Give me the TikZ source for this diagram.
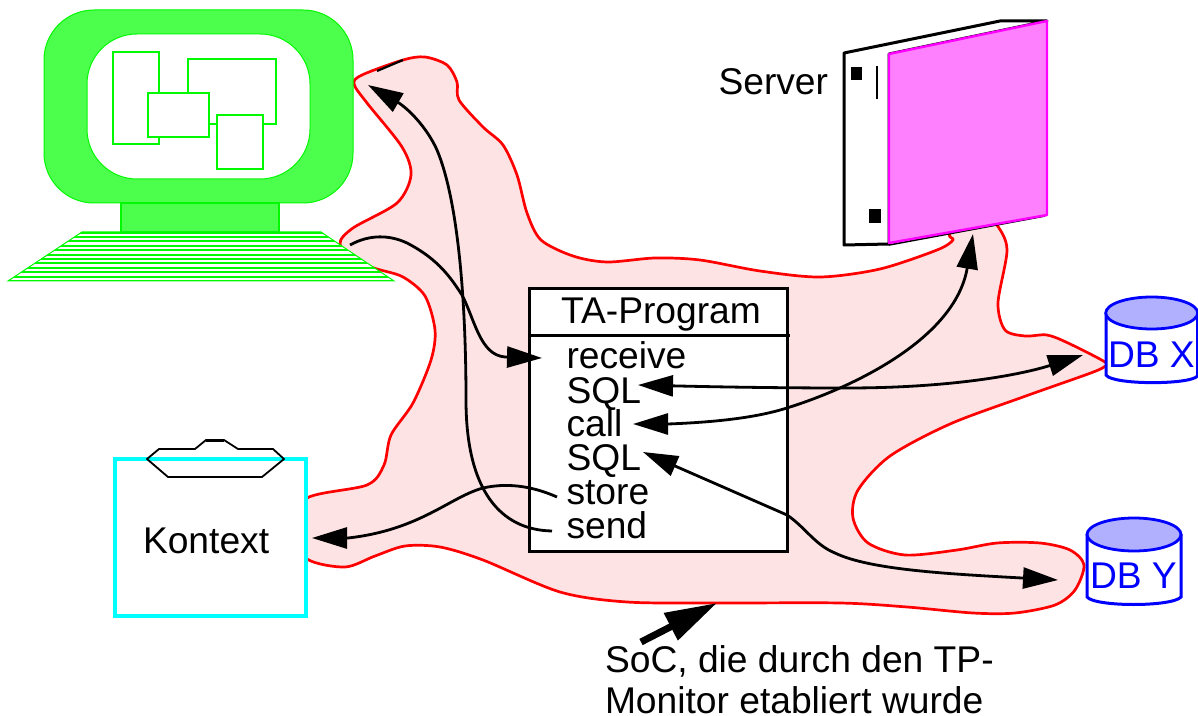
\documentclass[tikz,border=0pt]{standalone}
\usepackage{fontspec}
\setmainfont{Liberation Sans}
\usetikzlibrary{arrows.meta}
\definecolor{blobfill}{HTML}{FDE3E3}
\definecolor{monfill}{HTML}{4CFF4C}
\definecolor{monline}{HTML}{00F800}
\definecolor{srvfill}{HTML}{FF80FF}
\definecolor{srvline}{HTML}{FF00FF}
\definecolor{dbfill}{HTML}{B0B0FF}
\definecolor{ctxline}{HTML}{00FFFF}
\definecolor{blobline}{HTML}{FF0000}
\definecolor{dbline}{HTML}{0000FF}
\tikzset{
  flowhead/.tip={Triangle[length=17.5pt,width=10.5pt]},
  flow/.style={black,line width=1.4pt,line join=round},
  lbl/.style={anchor=base west,inner sep=0pt,outer sep=0pt,font=\fontsize{18.6}{20}\selectfont},
  dblbl/.style={lbl,text=dbline},
  winbox/.style={draw=monline,fill=white,line width=1pt},
  dbside/.style={draw=dbline,line width=1.5pt,fill=white},
  dbtop/.style={draw=dbline,line width=1.4pt,fill=dbfill},
}
\begin{document}
\begin{tikzpicture}[x=0.5pt,y=-0.5pt]
\useasboundingbox (0,0) rectangle (1198,716);
% sphere of control
\draw[blobline,line width=1.35pt,fill=blobfill,line join=round] plot[smooth cycle,tension=0.5] coordinates {
 (354,84) (362,75) (403,60) (425,57) (447,65) (457,82) (459,100) (483,127)
 (503,145) (517,175) (527,213) (541,240) (573,256) (607,262) (655,258) (700,260)
 (760,271) (820,277) (880,269) (937,250) (953,240) (950,233) (975,200) (997,225) (1007,250)
 (998,303) (1005,330) (1025,336) (1047,335) (1068,343) (1105,362)
 (1104,367) (1088,374) (1023,397) (950,424) (890,456) (858,490) (853,518) (868,543) (905,555)
 (957,550) (997,543) (1040,543) (1070,550) (1084,565) (1075,590) (1055,605)
 (1015,613) (973,613) (907,607) (840,603) (717,603) (627,602) (560,592) (483,560)
 (440,547) (405,546) (375,556) (345,567) (307,559) (290,530) (307,498) (367,485)
 (384,465) (391,435) (413,403) (431,360) (435,330) (425,296) (403,277)
 (377,269) (358,262) (340,244) (353,228) (397,203) (411,175) (402,147) (367,103)};
\draw[black,line width=1.1pt] (377,71) -- (403,60);
% monitor
\draw[monline,line width=0.5pt,fill=monfill,rounded corners=25pt] (44,10) rectangle (353,203);
\draw[monline,line width=0.5pt,fill=white,rounded corners=25pt] (87,34) rectangle (310,179);
\draw[winbox] (113,52) rectangle (159,144);
\draw[winbox] (188,59) rectangle (276,124);
\draw[winbox] (148,93) rectangle (209,137);
\draw[winbox] (217,115) rectangle (263,169);
\draw[monline,line width=1pt,fill=monfill] (121,203) rectangle (279,232);
% keyboard
\begin{scope}
\clip (82,232) -- (321,232) -- (394,281) -- (8,281) -- cycle;
\fill[white] (0,225) rectangle (400,285);
\foreach \k in {0,...,11} {
  \draw[monline,line width=0.95pt] (0,{232.6+\k*4.4}) -- (400,{232.6+\k*4.4});
}
\end{scope}
\draw[monline,line width=0.5pt] (82,232) -- (321,232) -- (394,281) -- (8,281) -- cycle;
% server
\draw[black,line width=1.5pt,fill=white,line join=round] (844,53) -- (1000,21) -- (1047,21) -- (889,54) -- (889,244) -- (844,245) -- cycle;
\draw[black,line width=0.8pt] (889,245) -- (1045,216);
\draw[draw=srvline,line width=1.2pt,fill=srvfill,line join=round] (889,54) -- (1047,21) -- (1047,215) -- (889,243) -- cycle;
\fill[black] (851,67) rectangle (862,80);
\fill[black] (869,209) rectangle (881,223);
\draw[black,line width=1.4pt] (877,66) -- (877,99);
\node[lbl] (server) at (718.5,95) {Server};
% context
\draw[ctxline,line width=1.6pt,fill=white] (115,459) rectangle (306,616);
\draw[black,line width=0.9pt,line join=round] (147,459) -- (159,449) -- (195,449) -- (206,440) -- (224,440) -- (238,449) -- (273,449) -- (284,459) -- (262,477) -- (168,477) -- cycle;
\draw[black,line width=1.5pt] (206,440) -- (224,440);
\node[lbl] (kontext) at (143,553) {Kontext};
% databases
\draw[dbside] (1106,313) -- (1106,375) .. controls (1112,385) and (1190,385) .. (1197.5,376) -- (1197.5,313);
\draw[dbtop] (1151.7,313) ellipse [x radius=46,y radius=16];
\node[dblbl] (dbx) at (1108,367) {DB X};
\draw[dbside] (1087,534) -- (1087,597) .. controls (1095,607) and (1172,607) .. (1181,597) -- (1181,534);
\draw[dbtop] (1134,534.5) ellipse [x radius=47,y radius=16.5];
\node[dblbl] (dby) at (1090,588) {DB Y};
% program box
\draw[black,line width=1.5pt,fill=white] (529.3,289) rectangle (787.7,551);
\draw[black,line width=1.5pt] (529.3,336) -- (790,336);
\node[lbl,anchor=base] (title) at (661,324) {TA-Program};
\node[lbl] (receive) at (566.5,368.5) {receive};
\node[lbl] (sqla) at (566.5,403.5) {SQL};
\node[lbl] (call) at (566.5,436) {call};
\node[lbl] (sqlb) at (566.5,470) {SQL};
\node[lbl] (store) at (566.5,504) {store};
\node[lbl] (send) at (566.5,538.5) {send};
\node[lbl] (soca) at (605,672.7) {SoC, die durch den TP-};
\node[lbl] (socb) at (605,713.5) {Monitor etabliert wurde};
% connector ends
\coordinate (monTip) at (368,85);
\coordinate (keyEnd) at (350,245);
\coordinate (recvTip) at (542,358);
\coordinate (sendEnd) at (552,531);
\coordinate (storeEnd) at (557,497);
\coordinate (ctxTip) at (312,538);
\coordinate (callTip) at (633,424);
\coordinate (srvTip) at (973,234);
\coordinate (sqlaTip) at (638,385);
\coordinate (dbxTip) at (1083,355);
\coordinate (sqlbTip) at (643,452);
\coordinate (dbyTip) at (1058,580);
\coordinate (socTail) at (641,642);
\coordinate (socTip) at (717,603);
% connectors
\draw[flow,-flowhead] (sendEnd) .. controls (500,530) and (466,490) .. (466,400)
  .. controls (466,300) and (458,200) .. (437,150) .. controls (428,130) and (412,112) .. (399,103) -- (monTip);
\draw[flow,-flowhead] (keyEnd) .. controls (370,234) and (390,235) .. (407,243)
  .. controls (440,260) and (452,280) .. (462,295) .. controls (475,320) and (480,355) .. (505,357) -- (recvTip);
\draw[flow,flowhead-flowhead] (callTip) -- (668,424) .. controls (720,422) and (760,417) .. (790,407)
  .. controls (850,388) and (955,340) .. (srvTip);
\draw[flow,flowhead-flowhead] (sqlaTip) .. controls (720,387) and (780,388) .. (847,388)
  .. controls (950,388) and (1020,375) .. (dbxTip);
\draw[flow,flowhead-flowhead] (sqlbTip) -- (787,515) .. controls (805,527) and (815,545) .. (835,553)
  .. controls (870,570) and (950,574) .. (dbyTip);
\draw[flow,-flowhead] (storeEnd) .. controls (530,485) and (505,483) .. (483,488)
  .. controls (450,497) and (420,530) .. (348,538) -- (ctxTip);
\draw[black,line width=3.5pt,-{Triangle[length=26pt,width=14.5pt]}] (socTail) -- (socTip);
\end{tikzpicture}
\end{document}
